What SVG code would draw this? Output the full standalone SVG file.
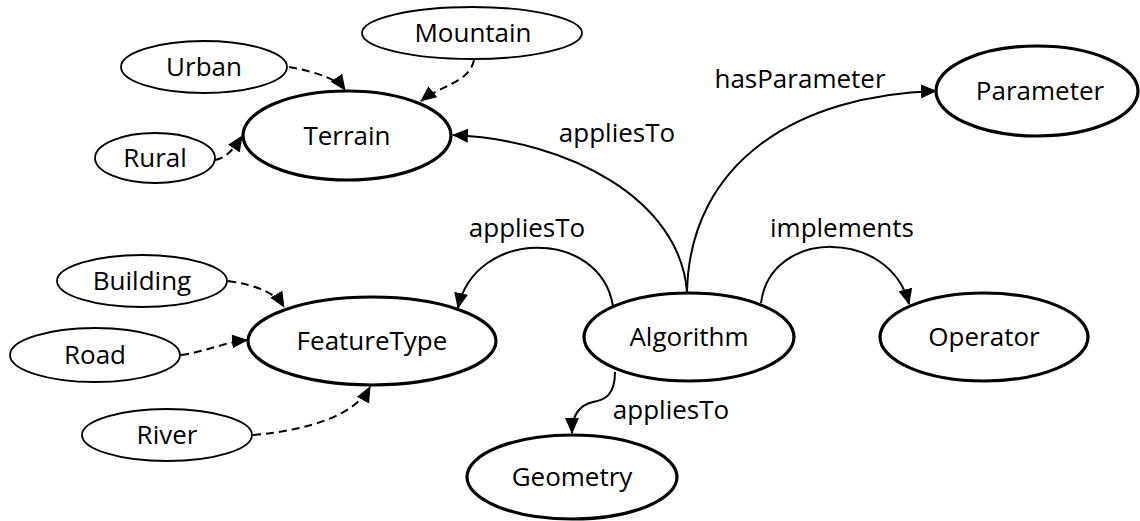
<svg xmlns="http://www.w3.org/2000/svg" width="1140" height="521" viewBox="0 0 1140 521">
<style>
text{font-family:"Open Sans","Noto Sans","Liberation Sans",sans-serif;font-size:26px;fill:#000;text-anchor:middle}
.major{fill:#fff;stroke:#000;stroke-width:3.2}
.minor{fill:#fff;stroke:#000;stroke-width:1.8}
.e{fill:none;stroke:#000;stroke-width:2;marker-end:url(#ah)}
.d{stroke-dasharray:8 5}
</style>
<defs>
<marker id="ah" markerUnits="userSpaceOnUse" markerWidth="16" markerHeight="14" viewBox="0 0 16 14" refX="15" refY="7" orient="auto">
<path d="M0,0 L16,7 L0,14 Z" fill="#000"/>
</marker>
</defs>
<rect width="1140" height="521" fill="#fff"/>
<g id="connectors">
<path class="e d" d="M289,67 C318,72 338,80 345,90"/>
<path class="e d" d="M474,60 C470,82 440,86 421,101"/>
<path class="e d" d="M215,160 C226,158 233,150 242,136"/>
<path class="e" d="M687,292 C680,200 570,140 453,135"/>
<path class="e" d="M687,292 C690,160 800,95 936,91"/>
<path class="e" d="M613,306 C600,228 475,228 458,308"/>
<path class="e" d="M761,303 C770,228 890,228 909,304"/>
<path class="e" d="M615,372 C615,395 605,400 593,402 C580,405 572,415 572,433"/>
<path class="e d" d="M228,281 C255,285 275,292 284,307"/>
<path class="e d" d="M181,355 C205,352 225,342 247,340"/>
<path class="e d" d="M253,435 C310,430 355,415 370,387"/>
<text x="800" y="88">hasParameter</text>
<text x="617" y="142">appliesTo</text>
<text x="842" y="237">implements</text>
<text x="527" y="237">appliesTo</text>
<text x="671" y="419">appliesTo</text>
</g>
<g id="mountain"><ellipse class="minor" cx="472" cy="33" rx="110" ry="26"/><text x="473" y="42">Mountain</text></g>
<g id="urban"><ellipse class="minor" cx="204" cy="67" rx="83" ry="26"/><text x="204" y="76">Urban</text></g>
<g id="rural"><ellipse class="minor" cx="155" cy="158" rx="60" ry="25"/><text x="155" y="167">Rural</text></g>
<g id="terrain"><ellipse class="major" cx="347" cy="135.5" rx="104" ry="44.5"/><text x="347" y="145">Terrain</text></g>
<g id="parameter"><ellipse class="major" cx="1037" cy="91" rx="101" ry="45"/><text x="1040" y="100">Parameter</text></g>
<g id="building"><ellipse class="minor" cx="142" cy="281" rx="85" ry="26"/><text x="142" y="290">Building</text></g>
<g id="road"><ellipse class="minor" cx="95" cy="355" rx="85" ry="27"/><text x="95" y="364">Road</text></g>
<g id="river"><ellipse class="minor" cx="167" cy="435" rx="85" ry="26"/><text x="167" y="444">River</text></g>
<g id="featuretype"><ellipse class="major" cx="372" cy="341" rx="124" ry="44"/><text x="372" y="350">FeatureType</text></g>
<g id="algorithm"><ellipse class="major" cx="689" cy="337" rx="105" ry="44"/><text x="689" y="346">Algorithm</text></g>
<g id="operator"><ellipse class="major" cx="984" cy="337" rx="104" ry="44"/><text x="984" y="346">Operator</text></g>
<g id="geometry"><ellipse class="major" cx="572" cy="477" rx="105" ry="42"/><text x="572" y="486">Geometry</text></g>
</svg>
